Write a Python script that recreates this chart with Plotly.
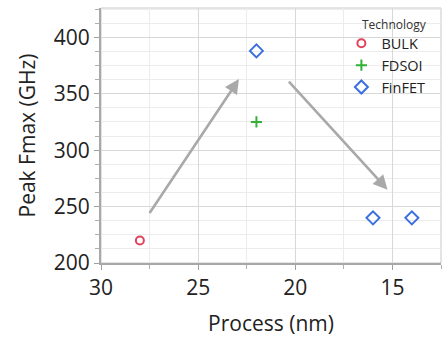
import plotly.graph_objects as go

# Data
bulk_x = [28]
bulk_y = [220]
fdsoi_x = [22]
fdsoi_y = [325]
finfet_x = [22, 16, 14]
finfet_y = [388, 240, 240]

# Trend arrows (data units): (x_start, y_start, x_end, y_end)
arrows = [
    (27.55, 243, 22.9, 363),
    (20.4, 362, 15.25, 265),
]

x_ticks = [30, 25, 20, 15]
y_ticks = [200, 250, 300, 350, 400]

FONT = "Open Sans"
TXT = "#222222"

fig = go.Figure()
fig.add_trace(go.Scatter(x=bulk_x, y=bulk_y, mode="markers", name="BULK",
                         marker=dict(symbol="circle-open", size=8, color="#e0435a",
                                     line=dict(width=2, color="#e0435a"))))
fig.add_trace(go.Scatter(x=fdsoi_x, y=fdsoi_y, mode="markers", name="FDSOI",
                         marker=dict(symbol="cross-thin-open", size=8, color="#33b035",
                                     line=dict(width=2, color="#33b035"))))
fig.add_trace(go.Scatter(x=finfet_x, y=finfet_y, mode="markers", name="FinFET",
                         marker=dict(symbol="diamond-open", size=10, color="#3b6fe0",
                                     line=dict(width=2, color="#3b6fe0"))))

for xs, ys, xe, ye in arrows:
    fig.add_annotation(x=xe, y=ye, ax=xs, ay=ys, xref="x", yref="y", axref="x", ayref="y",
                       showarrow=True, arrowhead=2, arrowsize=1.1, arrowwidth=2.6,
                       arrowcolor="#a9a9a9", text="")

# Legend title as a text annotation
fig.add_annotation(text="Technology", xref="paper", yref="paper", x=0.763, y=0.935,
                   xanchor="left", yanchor="middle", showarrow=False,
                   font=dict(size=12, family=FONT, color="#333333"))

fig.update_layout(
    width=445, height=339,
    margin=dict(l=101, r=4, t=8, b=76),
    paper_bgcolor="white", plot_bgcolor="white",
    font=dict(family=FONT, color=TXT),
    showlegend=True,
    legend=dict(
        font=dict(size=14.5, family=FONT, color=TXT),
        x=0.707, y=0.924, xanchor="left", yanchor="top",
        bgcolor="rgba(0,0,0,0)", itemwidth=30, tracegroupgap=0,
    ),
    xaxis=dict(
        range=[30, 12.5], tickvals=x_ticks, ticktext=[str(v) for v in x_ticks],
        tickfont=dict(size=21, family=FONT, color=TXT),
        title=dict(text="Process (nm)", font=dict(size=21, family=FONT, color=TXT), standoff=16),
        showgrid=True, gridcolor="#d8d8d8", gridwidth=1,
        minor=dict(dtick=2.5, tick0=0, showgrid=True, gridcolor="#ececec", ticks="outside",
                   ticklen=4, tickcolor="#b0b0b0"),
        ticks="outside", ticklen=5, tickcolor="#a0a0a0",
        showline=True, linecolor="#a8a8a8", linewidth=2, mirror=False,
        zeroline=False,
    ),
    yaxis=dict(
        range=[200, 426], tickvals=y_ticks, ticktext=[str(v) for v in y_ticks],
        tickfont=dict(size=21, family=FONT, color=TXT),
        title=dict(text="Peak Fmax (GHz)", font=dict(size=21, family=FONT, color=TXT), standoff=12),
        showgrid=True, gridcolor="#d8d8d8", gridwidth=1,
        minor=dict(dtick=12.5, tick0=0, showgrid=True, gridcolor="#ececec", ticks="outside",
                   ticklen=4, tickcolor="#b0b0b0"),
        ticks="outside", ticklen=5, tickcolor="#a0a0a0",
        showline=True, linecolor="#a8a8a8", linewidth=2, mirror=False,
        zeroline=False,
    ),
    shapes=[dict(type="rect", xref="paper", yref="paper", x0=0, y0=0, x1=1, y1=1,
                 line=dict(color="#c8c8c8", width=1), fillcolor="rgba(0,0,0,0)", layer="below")],
)

fig.write_html("out.html")
